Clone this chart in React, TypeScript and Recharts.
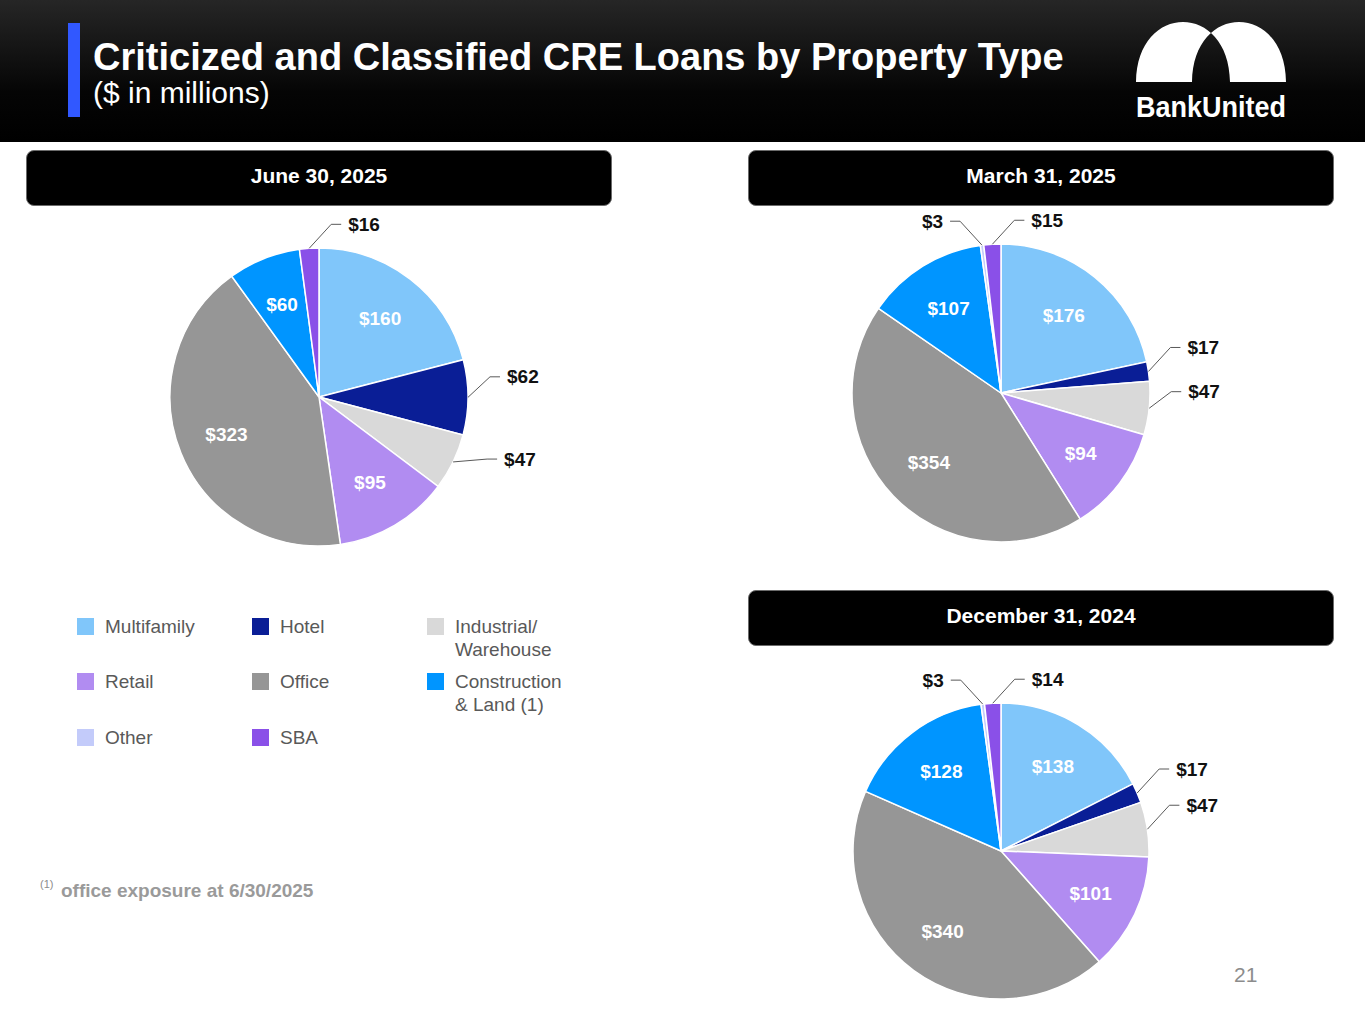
import { PieChart, Pie, Cell } from 'recharts';

// property types, in the order the slices run clockwise from 12 o'clock
const categories = [
  'Multifamily',
  'Hotel',
  'Industrial/Warehouse',
  'Retail',
  'Office',
  'Construction & Land (1)',
  'Other',
  'SBA',
];

// $ in millions
const jun2025 = [160, 62, 47, 95, 323, 60, 0, 16];
const mar2025 = [176, 17, 47, 94, 354, 107, 3, 15];
const dec2024 = [138, 17, 47, 101, 340, 128, 3, 14];

const periods = ['June 30, 2025', 'March 31, 2025', 'December 31, 2024'];

const COLORS = ['#80C6FA', '#0A1E96', '#D9D9D9', '#B18CF1', '#969696', '#0095FF', '#C3CBFA', '#8A50E8'];

// legend grid: rows of category indexes
const legendRows = [
  [0, 1, 2],
  [3, 4, 5],
  [6, 7],
];
const legendText: Record<string, string[]> = {
  'Industrial/Warehouse': ['Industrial/', 'Warehouse'],
  'Construction & Land (1)': ['Construction', '& Land (1)'],
};

const OUTSIDE = ['Hotel', 'Industrial/Warehouse', 'Other', 'SBA'];
const RADIAN = Math.PI / 180;
const FONT = '"Liberation Sans", Arial, Helvetica, sans-serif';

function renderLabel(props: any) {
  const { cx, cy, midAngle, outerRadius, value } = props;
  const name = props.name ?? props.payload?.name;
  if (!value) return null;
  const cos = Math.cos(-midAngle * RADIAN);
  const sin = Math.sin(-midAngle * RADIAN);

  if (!OUTSIDE.includes(name)) {
    const r = outerRadius * 0.67;
    return (
      <text
        x={cx + r * cos}
        y={cy + r * sin}
        fill="#fff"
        textAnchor="middle"
        dominantBaseline="central"
        fontSize={19}
        fontWeight="bold"
        fontFamily={FONT}
      >
        ${value}
      </text>
    );
  }

  // small slices: leader line out to the side, flattening as the slice sits lower
  const side = name === 'Other' ? -1 : 1;
  const clock = (((90 - midAngle) % 360) + 360) % 360;
  const rise = clock > 180 ? 24 : 24 * Math.min(1, Math.max(0, (120 - clock) / 35));
  const sx = cx + outerRadius * cos;
  const sy = cy + outerRadius * sin;
  const ex = sx + side * (rise > 4 ? 22 : 34);
  const ey = sy - rise;
  const hx = ex + side * 10;
  return (
    <g>
      <polyline points={`${sx},${sy} ${ex},${ey} ${hx},${ey}`} fill="none" stroke="#595959" strokeWidth={1} />
      <text
        x={hx + side * 7}
        y={ey}
        fill="#111"
        textAnchor={side > 0 ? 'start' : 'end'}
        dominantBaseline="central"
        fontSize={19}
        fontWeight="bold"
        fontFamily={FONT}
      >
        ${value}
      </text>
    </g>
  );
}

function LoanPie({ values, cx, cy, r }: { values: number[]; cx: number; cy: number; r: number }) {
  const data = categories.map((name, i) => ({ name, value: values[i] }));
  return (
    <div style={{ position: 'absolute', left: cx - 300, top: cy - 220 }}>
      <PieChart width={600} height={440} margin={{ top: 0, right: 0, bottom: 0, left: 0 }}>
        <Pie
          data={data}
          dataKey="value"
          nameKey="name"
          cx={300}
          cy={220}
          outerRadius={r}
          startAngle={90}
          endAngle={-270}
          stroke="#fff"
          strokeWidth={1.5}
          label={renderLabel}
          labelLine={false}
          isAnimationActive={false}
        >
          {data.map((d, i) => (
            <Cell key={d.name} fill={COLORS[i]} />
          ))}
        </Pie>
      </PieChart>
    </div>
  );
}

function Pill({ text, left, top }: { text: string; left: number; top: number }) {
  return (
    <div
      style={{
        position: 'absolute',
        left,
        top,
        width: 586,
        height: 56,
        boxSizing: 'border-box',
        paddingBottom: 4,
        background: '#000',
        border: '1.5px solid #6b6b6b',
        borderRadius: 8,
        color: '#fff',
        fontWeight: 'bold',
        fontSize: 21,
        display: 'flex',
        alignItems: 'center',
        justifyContent: 'center',
      }}
    >
      {text}
    </div>
  );
}

function Header() {
  return (
    <svg width={1365} height={142} style={{ position: 'absolute', left: 0, top: 0 }}>
      <defs>
        <linearGradient id="hdr" x1="0" y1="0" x2="0" y2="1">
          <stop offset="0%" stopColor="#262626" />
          <stop offset="65%" stopColor="#050505" />
          <stop offset="100%" stopColor="#000" />
        </linearGradient>
      </defs>
      <rect x={0} y={0} width={1365} height={142} fill="url(#hdr)" />
      <rect x={68} y={23} width={12} height={94} fill="#3158FF" />
      <text x={93} y={70} fill="#fff" fontSize={38} fontWeight="bold" fontFamily={FONT}>
        Criticized and Classified CRE Loans by Property Type
      </text>
      <text x={93} y={103} fill="#fff" fontSize={30} fontFamily={FONT}>
        ($ in millions)
      </text>
      <path
        d="M1136 82 C1137 2 1229 2 1230 82 Z M1192 82 C1193 2 1285 2 1286 82 Z"
        fill="#fff"
        fillRule="evenodd"
      />
      <text
        x={1136}
        y={117}
        fill="#fff"
        fontSize={30}
        fontWeight="bold"
        fontFamily={FONT}
        textLength={150}
        lengthAdjust="spacingAndGlyphs"
      >
        BankUnited
      </text>
    </svg>
  );
}

export default function App() {
  const colLeft = [77, 252, 427];
  const rowTop = [618, 673, 729];
  return (
    <div
      style={{
        position: 'absolute',
        left: 0,
        top: 0,
        width: 1365,
        height: 1024,
        overflow: 'hidden',
        background: '#fff',
        fontFamily: FONT,
      }}
    >
      <Header />

      <Pill text={periods[0]} left={26} top={150} />
      <Pill text={periods[1]} left={748} top={150} />
      <Pill text={periods[2]} left={748} top={590} />

      <LoanPie values={jun2025} cx={319} cy={397} r={149} />
      <LoanPie values={mar2025} cx={1001} cy={393} r={149} />
      <LoanPie values={dec2024} cx={1001} cy={851} r={148} />

      {legendRows.map((row, ri) =>
        row.map((ci, k) => {
          const name = categories[ci];
          const lines = legendText[name] ?? [name];
          return (
            <div key={name}>
              <div
                style={{
                  position: 'absolute',
                  left: colLeft[k],
                  top: rowTop[ri],
                  width: 17,
                  height: 17,
                  background: COLORS[ci],
                }}
              />
              <div
                style={{
                  position: 'absolute',
                  left: colLeft[k] + 28,
                  top: rowTop[ri] - 3,
                  fontSize: 19,
                  lineHeight: '23px',
                  color: '#595959',
                }}
              >
                {lines.map((l) => (
                  <div key={l}>{l}</div>
                ))}
              </div>
            </div>
          );
        })
      )}

      <div style={{ position: 'absolute', left: 40, top: 878, fontSize: 11, color: '#8c8c8c' }}>(1)</div>
      <div
        style={{
          position: 'absolute',
          left: 61,
          top: 880,
          fontSize: 19,
          lineHeight: '22px',
          fontWeight: 'bold',
          color: '#9a9a9a',
        }}
      >
        office exposure at 6/30/2025
      </div>

      <div style={{ position: 'absolute', left: 1234, top: 963, fontSize: 21, lineHeight: '24px', color: '#8c8c8c' }}>
        21
      </div>
    </div>
  );
}
